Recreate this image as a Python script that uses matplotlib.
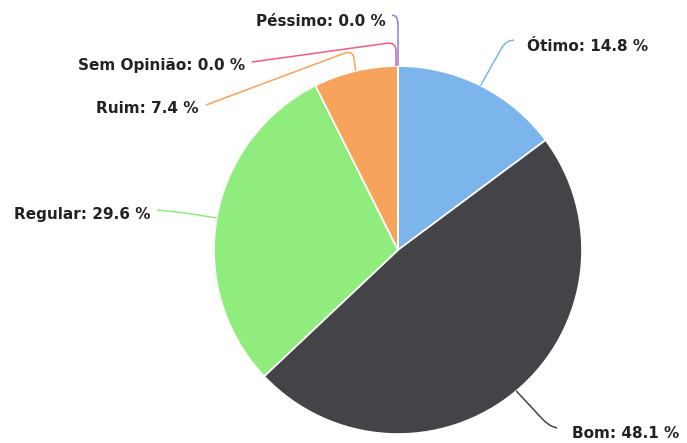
import numpy as np
import matplotlib
matplotlib.use('Agg')
import matplotlib.pyplot as plt
from matplotlib.path import Path
from matplotlib.patches import PathPatch

# Dados
categorias = ['Ótimo', 'Bom', 'Regular', 'Ruim', 'Sem Opinião', 'Péssimo']
valores = [14.8, 48.1, 29.6, 7.4, 0.0, 0.0]
cores = ['#7cb5ec', '#434348', '#90ed7d', '#f7a35c', '#f15c80', '#8085e9']

W, H = 687, 443
fig = plt.figure(figsize=(W / 100, H / 100), dpi=100)
ax = fig.add_axes([0, 0, 1, 1])

cx, cy, r = 398, H - 250, 184
fatias = [v if v > 0 else 1e-9 for v in valores]
wedges, _ = ax.pie(fatias, colors=cores, startangle=90, counterclock=False,
                   center=(cx, cy), radius=r,
                   wedgeprops=dict(edgecolor='white', linewidth=1.2))
ax.set_xlim(0, W)
ax.set_ylim(0, H)
ax.set_aspect('equal')
ax.axis('off')

# posição dos rótulos (coordenadas da imagem): x, y, alinhamento
rotulos = {
    'Ótimo': (527, 46, 'left'),
    'Bom': (572, 434, 'left'),
    'Regular': (151, 214, 'right'),
    'Ruim': (198, 108, 'right'),
    'Sem Opinião': (245, 65, 'right'),
    'Péssimo': (386, 21, 'right'),
}
# joelho e ponto final de cada conector
conectores = {
    'Ótimo': ((505, 42), (514, 40)),
    'Bom': ((548, 425), (557, 428)),
    'Regular': ((186, 213), (157, 210)),
    'Ruim': ((353, 50), (206, 105)),
    'Sem Opinião': ((396, 42), (252, 62)),
    'Péssimo': ((398, 17), (392, 15)),
}


def curva(p0, k, p1, raio=9):
    p0, k, p1 = map(np.asarray, (p0, k, p1))
    d0 = (p0 - k) / np.linalg.norm(p0 - k)
    d1 = (p1 - k) / np.linalg.norm(p1 - k)
    a = k + d0 * min(raio, np.linalg.norm(p0 - k) * 0.5)
    b = k + d1 * min(raio, np.linalg.norm(p1 - k) * 0.5)
    verts = [p0, a, k, b, p1]
    codes = [Path.MOVETO, Path.LINETO, Path.CURVE3, Path.CURVE3, Path.LINETO]
    return Path(verts, codes)


for w, nome, v, c in zip(wedges, categorias, valores, cores):
    ang = np.deg2rad((w.theta1 + w.theta2) / 2)
    ax0 = cx + r * np.cos(ang)
    ay0 = cy + r * np.sin(ang)
    if v == 0:
        ax0, ay0 = cx, cy + r
        if nome == 'Sem Opinião':
            ax0 -= 2
    (kx, ky), (ex, ey) = conectores[nome]
    p = curva((ax0, ay0), (kx, H - ky), (ex, H - ey))
    ax.add_patch(PathPatch(p, fill=False, edgecolor=c, lw=1.1))
    tx, ty, ha = rotulos[nome]
    ax.text(tx, H - ty, f'{nome}: {v:.1f} %', ha=ha, va='center',
            fontsize=11, fontweight='bold', color='#222222')

fig.savefig('out.png', dpi=100)
